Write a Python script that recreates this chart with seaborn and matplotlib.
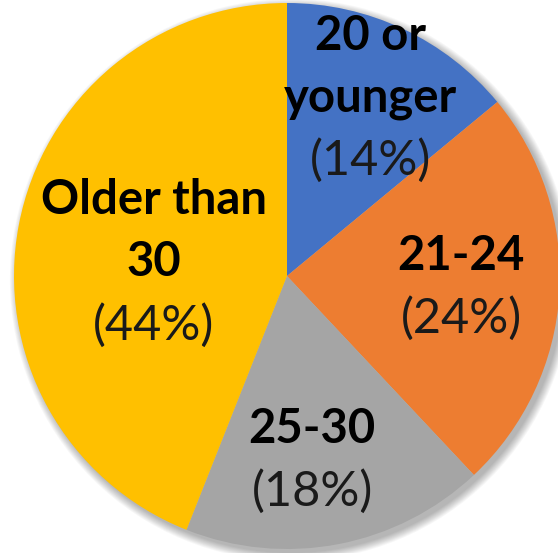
import matplotlib
matplotlib.use("Agg")
import matplotlib.pyplot as plt
import seaborn as sns
import numpy as np
from matplotlib.patches import Circle

# age groups and their share of respondents (%)
groups = ["20 or\nyounger", "21-24", "25-30", "Older than\n30"]
shares = [14, 24, 18, 44]
colors = ["#4472C4", "#ED7D31", "#A5A5A5", "#FFC000"]
label_dist = [0.72, 0.64, 0.68, 0.49]
label_turn = [0, 0, -3, 5]  # small angular nudges, like excel's best fit

sns.set_theme(style="white")
plt.rcParams["font.family"] = ["Lato", "DejaVu Sans"]

fig = plt.figure(figsize=(5.58, 5.53), dpi=100)
ax = fig.add_axes([0, 0, 1, 1])

cx, cy, R = 287, 277, 273

# soft drop shadow
for k in range(10):
    ax.add_patch(Circle((cx + 4, cy - 4), R + k * 0.9, color="black",
                        alpha=0.03, lw=0, zorder=0))

wedges, _ = ax.pie(shares, colors=colors, startangle=90, counterclock=False,
                   radius=R, center=(cx, cy), wedgeprops=dict(linewidth=0))

ax.set_xlim(0, 558)
ax.set_ylim(0, 553)
ax.set_aspect("equal")
ax.axis("off")

line_step = 45  # points between text lines
for w, grp, val, d, t in zip(wedges, groups, shares, label_dist, label_turn):
    ang = np.deg2rad((w.theta1 + w.theta2) / 2 + t)
    x = cx + d * R * np.cos(ang)
    y = cy + d * R * np.sin(ang)
    lines = grp.split("\n")
    n = len(lines) + 1
    for i, txt in enumerate(lines):
        off = ((n - 1) / 2 - i) * line_step
        ax.annotate(txt, (x, y), xytext=(0, off), textcoords="offset points",
                    ha="center", va="center", fontsize=34, fontweight="bold",
                    color="black")
    off = ((n - 1) / 2 - (n - 1)) * line_step
    ax.annotate(f"({val}%)", (x, y), xytext=(0, off), textcoords="offset points",
                ha="center", va="center", fontsize=35, color="#1a1a1a")

fig.savefig("out.png", dpi=100)
